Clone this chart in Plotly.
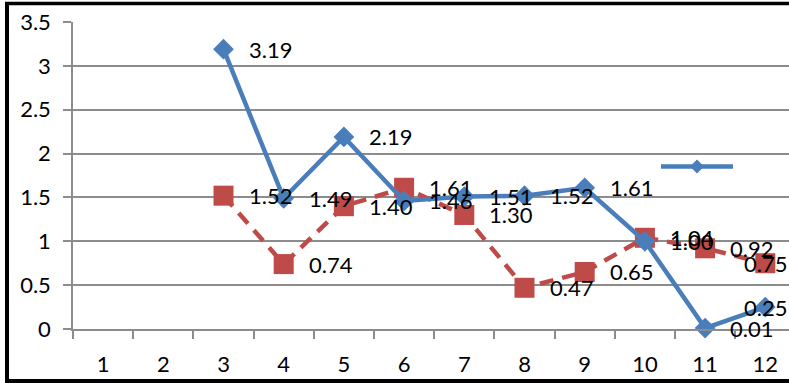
import plotly.graph_objects as go

# Monthly values for the two series (None = no reading)
months = [str(m) for m in range(1, 13)]
series_a = [None, None, 3.19, 1.49, 2.19, 1.46, 1.51, 1.52, 1.61, 1.00, 0.01, 0.25]
series_b = [None, None, 1.52, 0.74, 1.40, 1.61, 1.30, 0.47, 0.65, 1.04, 0.92, 0.75]

BLUE = "#4a7ebb"
RED = "#be4b48"
GRID = "#8c8c8c"
FONT = "Lato"
FSIZE = 22

W, H = 789, 383
ML, MR, MT, MB = 73, 0, 22, 54
PW, PH = W - ML - MR, H - MT - MB
CAT_PX = 60.2  # width of one category slot in pixels


def px_x(px):
    return (px - ML) / PW


def px_y(py):
    return (H - MB - py) / PH


fig = go.Figure()

fig.add_trace(go.Scatter(
    x=months, y=series_b, mode="lines+markers", name="",
    line=dict(color=RED, width=4.5, dash="14px,9px"),
    marker=dict(symbol="square", size=20, color=RED),
    cliponaxis=False, showlegend=False,
))
fig.add_trace(go.Scatter(
    x=months, y=series_a, mode="lines+markers", name="",
    line=dict(color=BLUE, width=4.5),
    marker=dict(symbol="diamond", size=16, color=BLUE),
    cliponaxis=False, showlegend=False,
))

# value labels to the right of each point (category axis -> use slot index);
# labels of the last month are pulled back so they stay inside the frame
annotations = []
last = len(months) - 1
for vals in (series_b, series_a):
    for i, v in enumerate(vals):
        if v is None:
            continue
        at_edge = i == last
        annotations.append(dict(
            x=i, y=v, xref="x", yref="y", text=f"{v:.2f}",
            showarrow=False, yanchor="middle",
            xanchor="right" if at_edge else "left",
            xshift=24 if at_edge else 23,
            font=dict(family=FONT, size=FSIZE, color="black"),
        ))

shapes = []
# outer frame (left, top, bottom)
shapes.append(dict(type="line", xref="paper", yref="paper",
                   x0=px_x(7), x1=px_x(7), y0=px_y(2), y1=px_y(383),
                   line=dict(color="black", width=4)))
shapes.append(dict(type="line", xref="paper", yref="paper",
                   x0=px_x(5), x1=px_x(800), y0=px_y(3.5), y1=px_y(3.5),
                   line=dict(color="black", width=3.5)))
shapes.append(dict(type="line", xref="paper", yref="paper",
                   x0=px_x(5), x1=px_x(800), y0=px_y(381), y1=px_y(381),
                   line=dict(color="black", width=4)))

# legend key for the blue series
lx0, lx1, ly, lc = 661, 733, 166.5, 697
shapes.append(dict(type="line", xref="paper", yref="paper",
                   x0=px_x(lx0), x1=px_x(lx1), y0=px_y(ly), y1=px_y(ly),
                   line=dict(color=BLUE, width=4.5)))
d = 7
shapes.append(dict(
    type="path", xref="paper", yref="paper",
    path=(f"M{px_x(lc - d)},{px_y(ly)} L{px_x(lc)},{px_y(ly - d)} "
          f"L{px_x(lc + d)},{px_y(ly)} L{px_x(lc)},{px_y(ly + d)} Z"),
    fillcolor=BLUE, line=dict(color=BLUE, width=0),
))

fig.update_layout(
    width=W, height=H, autosize=False,
    margin=dict(l=ML, r=MR, t=MT, b=MB, pad=0),
    paper_bgcolor="white", plot_bgcolor="white",
    showlegend=False,
    font=dict(family=FONT, size=FSIZE, color="black"),
    annotations=annotations,
    shapes=shapes,
)

fig.update_xaxes(
    type="category", categoryorder="array", categoryarray=months,
    range=[-0.5, -0.5 + PW / CAT_PX],
    showgrid=False, zeroline=False,
    showline=True, linecolor=GRID, linewidth=1.5,
    ticks="outside", tickson="boundaries", ticklen=8, tickcolor=GRID, tickwidth=1.5,
    tickfont=dict(family=FONT, size=FSIZE, color="black"),
    ticklabelstandoff=15,
)
fig.update_yaxes(
    range=[0, 3.5], dtick=0.5, tick0=0,
    showgrid=True, gridcolor=GRID, gridwidth=1.5,
    zeroline=False,
    showline=True, linecolor=GRID, linewidth=1.5,
    ticks="outside", ticklen=8, tickcolor=GRID, tickwidth=1.5,
    tickfont=dict(family=FONT, size=FSIZE, color="black"),
    ticklabelstandoff=8,
)

fig.write_html("out.html")
